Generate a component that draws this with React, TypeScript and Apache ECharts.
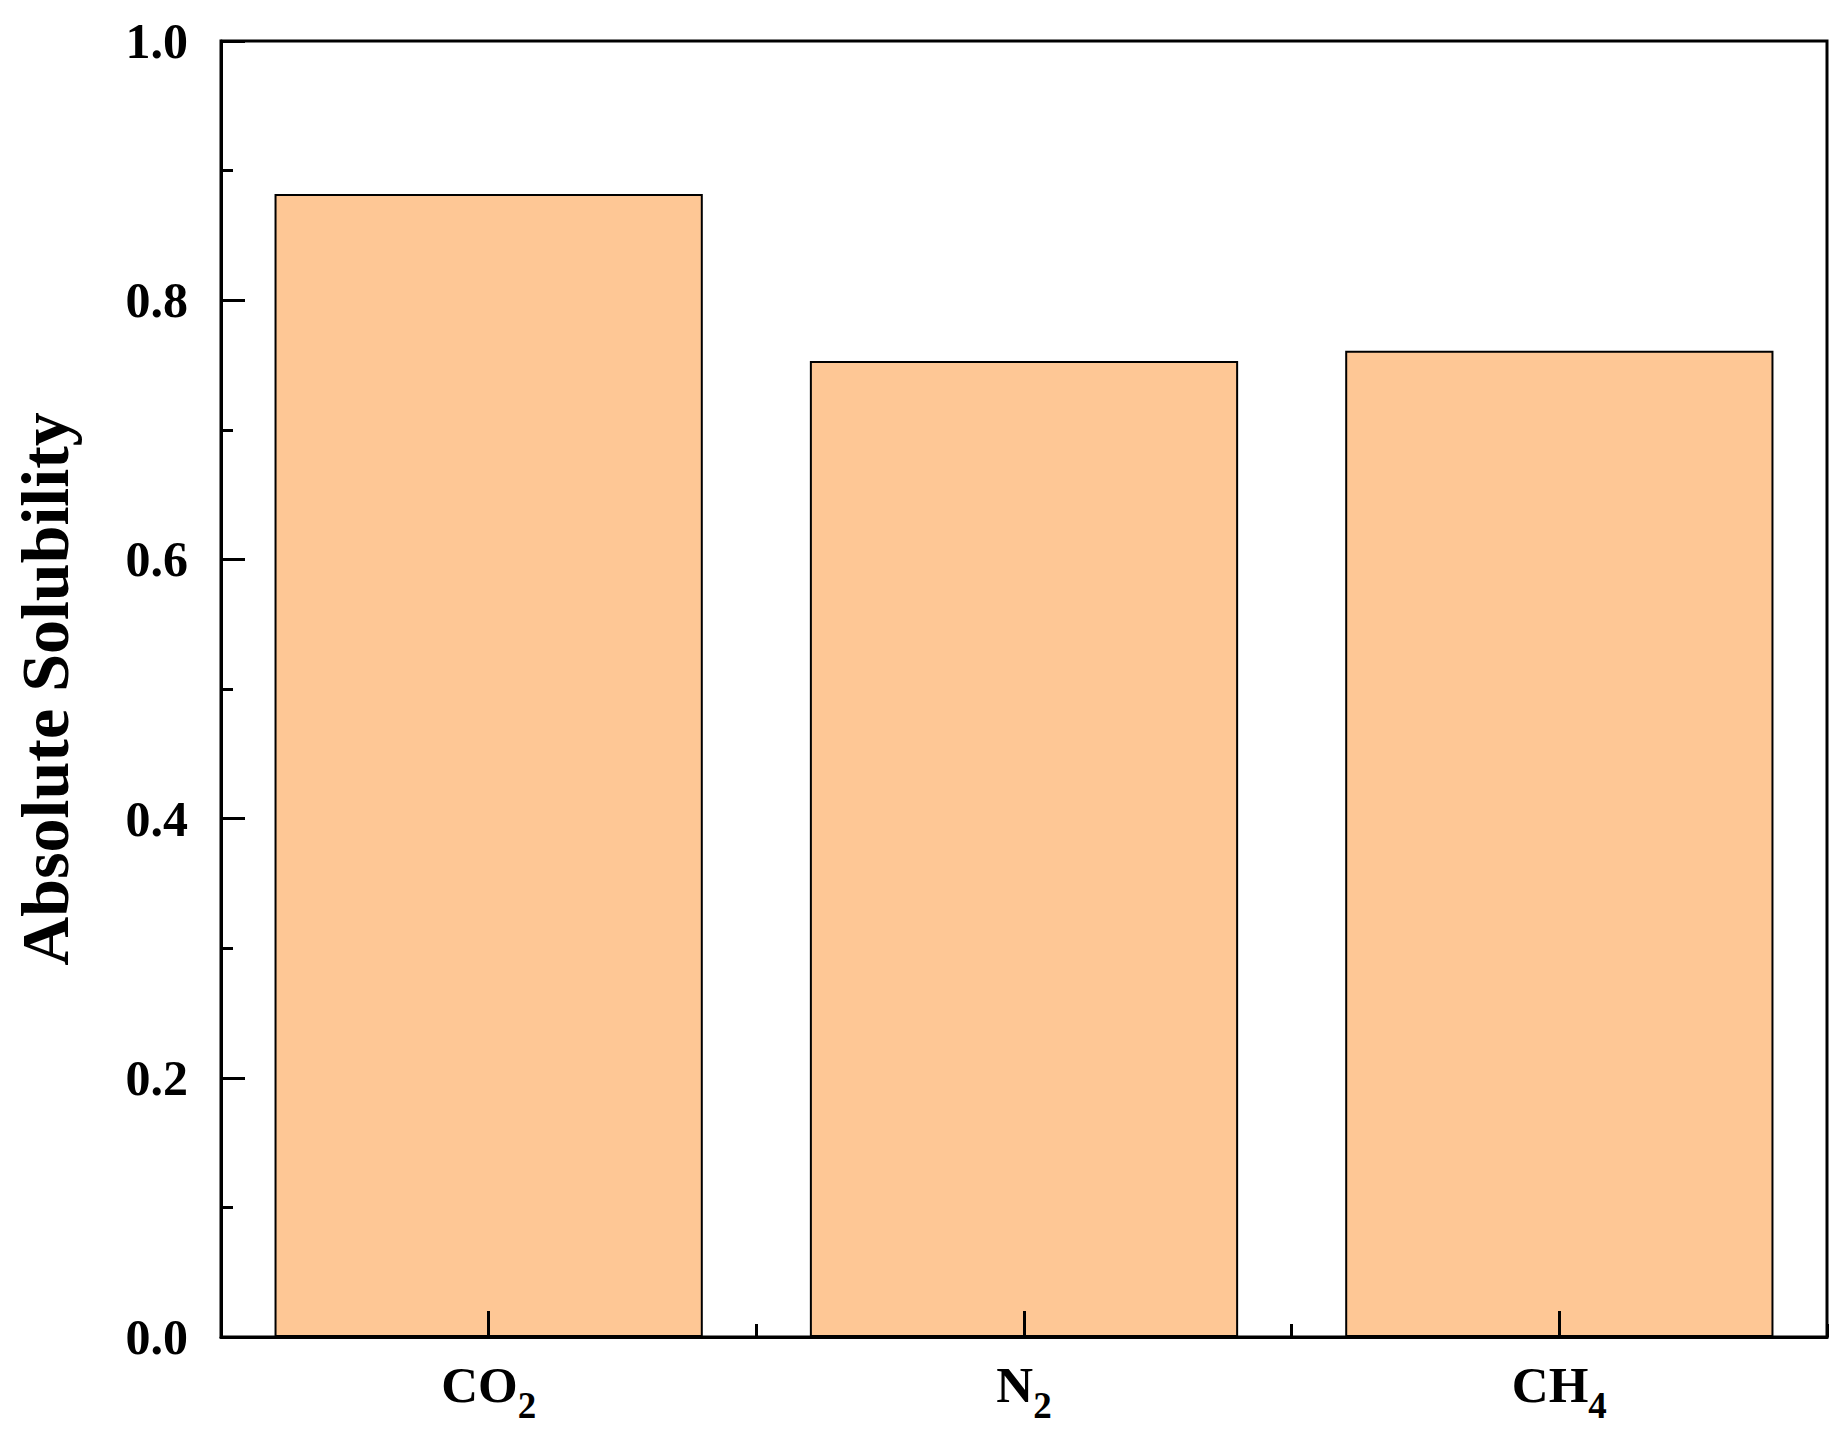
import React, { useEffect, useRef } from "react";
import * as echarts from "echarts";

const categories: string[] = ["CO2", "N2", "CH4"];
const solubility: number[] = [0.882, 0.753, 0.761];
const yTicks: number[] = [0, 0.2, 0.4, 0.6, 0.8, 1.0];

const FONT = "'Liberation Serif', 'Times New Roman', serif";

function toRich(name: string): string {
  const m = name.match(/^(.*?)(\d+)$/);
  if (!m) return `{a|${name}}`;
  return `{a|${m[1]}}{sub|${m[2]}}`;
}

export default function App() {
  const ref = useRef<HTMLDivElement>(null);
  useEffect(() => {
    if (!ref.current) return;
    const chart = echarts.init(ref.current, undefined, { renderer: "svg" });
    chart.setOption({
      animation: false,
      backgroundColor: "#ffffff",
      grid: {
        left: 221,
        right: 20,
        top: 41,
        bottom: 93,
        show: true,
        borderColor: "#000",
        borderWidth: 3,
        backgroundColor: "transparent",
      },
      xAxis: [
        {
          type: "category",
          data: categories,
          position: "bottom",
          boundaryGap: true,
          z: 10,
          axisLine: { show: true, lineStyle: { color: "#000", width: 3 } },
          axisTick: {
            show: true,
            inside: true,
            alignWithLabel: true,
            length: 26,
            lineStyle: { color: "#000", width: 3 },
          },
          axisLabel: {
            show: true,
            margin: 22,
            formatter: (v: string) => toRich(v),
            rich: {
              a: {
                fontFamily: FONT,
                fontWeight: "bold",
                fontSize: 51,
                color: "#000",
                verticalAlign: "top",
              },
              sub: {
                fontFamily: FONT,
                fontWeight: "bold",
                fontSize: 37,
                color: "#000",
                verticalAlign: "top",
                padding: [28, 0, 0, 0],
              },
            },
          },
          splitLine: { show: false },
        },
        {
          type: "category",
          data: categories,
          position: "bottom",
          boundaryGap: true,
          z: 10,
          axisLine: { show: false },
          axisTick: {
            show: true,
            inside: true,
            alignWithLabel: false,
            length: 13,
            lineStyle: { color: "#000", width: 3 },
          },
          axisLabel: { show: false },
          splitLine: { show: false },
        },
      ],
      yAxis: {
        type: "value",
        min: yTicks[0],
        max: yTicks[yTicks.length - 1],
        interval: 0.2,
        z: 10,
        name: "Absolute Solubility",
        nameLocation: "middle",
        nameGap: 142,
        nameTextStyle: {
          fontFamily: FONT,
          fontWeight: "bold",
          fontSize: 68,
          color: "#000",
        },
        axisLine: { show: true, lineStyle: { color: "#000", width: 3 } },
        axisTick: {
          show: true,
          inside: true,
          length: 24,
          lineStyle: { color: "#000", width: 3 },
        },
        minorTick: {
          show: true,
          splitNumber: 2,
          length: 12,
          lineStyle: { color: "#000", width: 3 },
        },
        axisLabel: {
          margin: 33,
          fontFamily: FONT,
          fontWeight: "bold",
          fontSize: 50,
          color: "#000",
          formatter: (v: number) => v.toFixed(1),
        },
        splitLine: { show: false },
      },
      series: [
        {
          type: "bar",
          data: solubility,
          xAxisIndex: 0,
          barCategoryGap: "20%",
          itemStyle: {
            color: "#FEC795",
            borderColor: "#000",
            borderWidth: 2,
          },
        },
      ],
    });
    return () => chart.dispose();
  }, []);
  return (
    <div
      ref={ref}
      style={{ position: "fixed", left: 0, top: 0, width: 1847, height: 1430, background: "#fff" }}
    />
  );
}
